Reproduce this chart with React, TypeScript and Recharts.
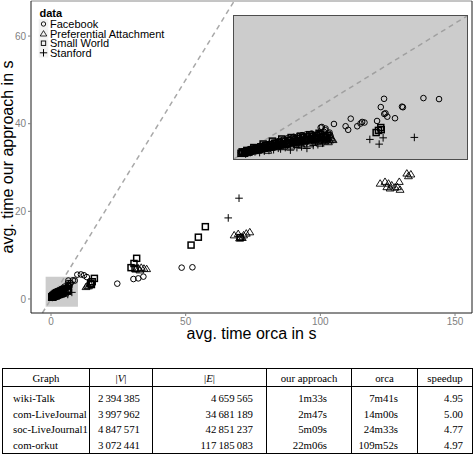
import React from 'react';
import { ScatterChart, Scatter, XAxis, YAxis, ReferenceLine, ReferenceArea, Legend } from 'recharts';

type P = [number, number];

// ---- small-value cluster (shown in main plot and in the zoomed inset) ----
const facebookSmall: P[] = [
  [0.3, 0.45], [0.5, 0.55], [0.7, 0.7], [0.9, 0.75], [1.1, 0.9], [1.3, 1.0], [1.5, 1.05], [1.7, 1.15],
  [1.9, 1.25], [2.1, 1.35], [2.3, 1.45], [2.56, 1.55], [2.75, 1.6], [2.92, 1.67], [3.1, 1.72], [3.33, 1.78],
  [3.55, 1.55], [3.72, 2.2], [3.77, 2.24], [3.85, 1.44], [3.86, 1.9], [3.92, 2.01], [3.93, 2.13], [4.06, 1.78],
  [4.1, 1.85], [4.13, 1.67], [4.29, 2.45], [4.79, 2.29], [4.9, 2.04], [5.01, 2.82], [5.29, 2.29], [5.43, 2.48],
  [5.5, 2.59], [5.6, 2.55], [6.14, 2.66], [6.3, 3.63], [6.44, 4.21], [6.45, 3.15], [6.5, 3.2], [6.58, 2.96],
  [6.91, 2.85], [7.21, 3.66], [7.25, 3.62], [8.13, 4.26], [8.8, 4.19],
  [0.4, 0.55], [0.6, 0.65], [0.8, 0.75], [1.0, 0.8], [1.2, 0.9], [1.4, 1.0], [1.6, 1.05], [1.8, 1.15],
  [2.0, 1.2], [2.2, 1.3], [2.4, 1.35], [2.6, 1.4], [2.8, 1.45], [3.0, 1.55], [3.2, 1.6], [3.4, 1.65], [3.6, 1.7],
  [0.35, 0.5], [0.55, 0.5], [0.75, 0.6], [0.95, 0.7], [1.15, 0.75], [1.35, 0.85], [1.55, 0.9], [1.75, 1.0],
  [1.95, 1.05], [2.15, 1.1], [2.35, 1.15], [2.55, 1.25], [2.75, 1.3], [2.95, 1.35], [3.15, 1.4], [3.35, 1.45],
  [3.55, 1.5], [3.75, 1.6], [3.95, 1.65], [4.15, 1.55],
];
const prefAttachSmall: P[] = [
  [0.4, 0.4], [0.6, 0.45], [0.8, 0.55], [1.0, 0.6], [1.2, 0.7], [1.4, 0.75], [1.5, 0.95], [1.6, 0.8],
  [1.8, 0.85], [2.0, 0.95], [2.2, 1.0], [2.4, 1.05], [2.5, 1.3], [2.6, 1.1], [2.8, 1.15], [3.0, 1.2],
  [3.2, 1.25], [3.3, 1.45], [3.4, 1.3], [3.6, 1.3], [3.8, 1.35], [3.9, 1.25], [4.0, 1.45], [4.1, 1.32],
  [4.2, 1.4], [4.25, 1.35],
  [0.5, 0.5], [0.7, 0.6], [0.9, 0.65], [1.1, 0.8], [1.3, 0.85], [1.45, 0.6], [1.7, 1.0], [1.9, 1.1],
  [2.1, 0.85], [2.3, 1.2], [2.45, 0.9], [2.7, 1.35], [2.9, 0.95], [3.1, 1.4], [3.25, 1.05], [3.5, 1.5],
  [3.65, 1.6], [3.7, 1.1], [3.9, 1.55], [4.05, 1.2],
  [0.45, 0.45], [0.65, 0.55], [0.85, 0.6], [1.05, 0.7], [1.25, 0.75], [1.45, 0.85], [1.65, 0.9], [1.85, 0.95],
  [2.05, 1.05], [2.25, 1.1], [2.45, 1.15], [2.65, 1.2], [2.85, 1.25], [3.05, 1.3], [3.25, 1.35], [3.45, 1.4],
  [3.65, 1.45], [3.85, 1.45], [4.15, 1.5],
];
const smallWorldSmall: P[] = [
  [0.35, 0.5], [0.55, 0.6], [0.75, 0.65], [0.95, 0.75], [1.15, 0.85], [1.35, 0.95], [1.55, 1.0], [1.75, 1.1],
  [1.95, 1.15], [2.15, 1.25], [2.35, 1.3], [2.55, 1.4], [2.75, 1.45], [2.95, 1.5], [3.15, 1.55], [3.35, 1.6],
  [3.55, 1.65], [3.7, 1.7], [6.1, 1.85], [6.2, 2.0], [6.3, 2.2], [6.32, 2.05],
  [0.45, 0.4], [0.65, 0.5], [0.85, 0.8], [1.05, 0.65], [1.25, 1.05], [1.45, 0.8], [1.65, 1.25], [1.85, 0.95],
  [2.05, 1.4], [2.25, 1.05], [2.45, 1.5], [2.65, 1.2], [2.85, 1.6], [3.05, 1.3], [3.25, 1.7], [3.45, 1.4],
  [3.65, 1.8], [3.85, 1.55], [4.0, 1.65],
  [0.3, 0.4], [0.5, 0.45], [0.7, 0.55], [0.9, 0.6], [1.1, 0.7], [1.3, 0.75], [1.5, 0.85], [1.7, 0.9],
  [1.9, 1.0], [2.1, 1.05], [2.3, 1.1], [2.5, 1.15], [2.7, 1.25], [2.9, 1.3], [3.1, 1.35], [3.3, 1.4],
  [3.5, 1.45], [3.75, 1.5], [3.95, 1.4],
];
const stanfordSmall: P[] = [
  [0.5, 0.35], [0.7, 0.45], [0.9, 0.5], [1.1, 0.45], [1.2, 0.65], [1.3, 0.55], [1.5, 0.6], [1.6, 0.8],
  [1.7, 0.65], [1.9, 0.75], [2.0, 0.7], [2.1, 0.95], [2.2, 0.8], [2.42, 0.62], [2.6, 1.05], [2.7, 0.8],
  [2.9, 0.85], [3.0, 1.1], [3.13, 0.74], [3.4, 0.95], [3.5, 1.2], [3.6, 1.0], [3.8, 1.1], [4.0, 1.3],
  [5.83, 1.37], [6.23, 1.04], [6.4, 1.48], [7.74, 1.51],
];

// ---- larger values (main plot only) ----
const facebookLarge: P[] = [
  [9.77, 5.55], [11.1, 5.6], [12.25, 5.4], [13.3, 5.0], [24.6, 3.5], [30.6, 4.55], [32.4, 4.7], [34.3, 5.1],
  [48.5, 7.15], [52.5, 7.23],
];
const prefAttachLarge: P[] = [
  [13.0, 2.8], [13.5, 3.1], [13.9, 2.97], [14.5, 3.4], [31.5, 6.8], [32.5, 7.0], [33.0, 6.6], [33.5, 7.2],
  [34.5, 7.0], [35.5, 6.9], [68.0, 14.6], [69.5, 14.9], [70.0, 13.9], [70.5, 14.2], [71.0, 14.0], [71.5, 14.6],
  [72.5, 15.0], [73.8, 15.3], [122.2, 26.4], [124.0, 26.8], [124.7, 25.6], [125.3, 26.4], [125.9, 25.3],
  [126.5, 26.0], [127.7, 25.5], [128.6, 25.6], [129.3, 26.8], [129.6, 25.0], [132.1, 28.7], [132.7, 28.1],
  [133.6, 28.5],
];
const smallWorldLarge: P[] = [
  [14.7, 3.6], [15.0, 3.3], [15.3, 3.95], [16.1, 4.7], [29.7, 7.15], [30.8, 8.1], [31.2, 7.0], [31.8, 9.28],
  [52.0, 12.3], [54.7, 14.1], [57.3, 16.5], [70.2, 14.0],
];
const stanfordLarge: P[] = [[65.8, 18.5], [69.8, 23.0]];

const seriesNames = ['Facebook', 'Preferential Attachment', 'Small World', 'Stanford'];
const xTicks = [0, 50, 100, 150];
const yTicks = [0, 20, 40, 60];
const xDomain: [number, number] = [-7.43, 156.3];
const yDomain: [number, number] = [-3.2, 68.0];
const zoomBox = { x1: -2, x2: 10, y1: -1.8, y2: 5.1 };
const insetDomain: [number, number] = [0, 10];

// ---- table ----
const graphs = ['wiki-Talk', 'com-LiveJournal', 'soc-LiveJournal1', 'com-orkut'];
const vertices = ['2\u2009394\u2009385', '3\u2009997\u2009962', '4\u2009847\u2009571', '3\u2009072\u2009441'];
const edges = ['4\u2009659\u2009565', '34\u2009681\u2009189', '42\u2009851\u2009237', '117\u2009185\u2009083'];
const ourTimes = ['1m33s', '2m47s', '5m09s', '22m06s'];
const orcaTimes = ['7m41s', '14m00s', '24m33s', '109m52s'];
const speedups = ['4.95', '5.00', '4.77', '4.97'];

const toPts = (a: P[]) => a.map(([x, y]) => ({ x, y }));

const SANS = '"Liberation Sans", Arial, Helvetica, sans-serif';
const SERIF = '"Liberation Serif", "Times New Roman", serif';

const CircleShape = (p: any) => (
  <circle cx={p.cx} cy={p.cy} r={2.8} fill="none" stroke="#000" strokeWidth={1} />
);
const TriShape = (p: any) => {
  const { cx, cy } = p;
  const s = 3.6;
  return (
    <polygon
      points={`${cx},${cy - s} ${cx - s * 1.1},${cy + s * 0.8} ${cx + s * 1.1},${cy + s * 0.8}`}
      fill="none" stroke="#000" strokeWidth={0.9}
    />
  );
};
const SquareShape = (p: any) => (
  <rect x={p.cx - 3} y={p.cy - 3} width={6} height={6} fill="none" stroke="#000" strokeWidth={1.5} />
);
const PlusShape = (p: any) => (
  <path d={`M${p.cx - 3.8},${p.cy}H${p.cx + 3.8}M${p.cx},${p.cy - 3.8}V${p.cy + 3.8}`} stroke="#000" strokeWidth={1} fill="none" />
);

const LegendContent = () => {
  const rowY = [24, 33.6, 43.2, 52.8];
  const icons = [
    <circle cx={43.5} cy={rowY[0]} r={2.2} fill="none" stroke="#000" strokeWidth={0.9} />,
    <polygon points={`43.5,${rowY[1] - 3} 40.2,${rowY[1] + 2.4} 46.8,${rowY[1] + 2.4}`} fill="none" stroke="#000" strokeWidth={0.8} />,
    <rect x={41.3} y={rowY[2] - 2.2} width={4.4} height={4.4} fill="none" stroke="#000" strokeWidth={0.9} />,
    <path d={`M39.8,${rowY[3]}H47.2M43.5,${rowY[3] - 3.7}V${rowY[3] + 3.7}`} stroke="#000" strokeWidth={1} />,
  ];
  return (
    <svg width={190} height={62} style={{ display: 'block' }}>
      <text x={39.5} y={17.3} fontFamily={SANS} fontSize={11} fontWeight="bold" fill="#000">data</text>
      {seriesNames.map((n, i) => (
        <g key={n}>
          <rect x={38.7} y={rowY[i] - 4.8} width={9.6} height={9.6} fill="#f2f2f2" />
          {icons[i]}
          <text x={50} y={rowY[i] + 4} fontFamily={SANS} fontSize={11} fill="#000">{n}</text>
        </g>
      ))}
    </svg>
  );
};

const tickStyle = { fill: '#7f7f7f', fontSize: 10, fontFamily: SANS };

const cellBase: React.CSSProperties = {
  borderLeft: '1px solid #000',
  borderRight: '1px solid #000',
  padding: 0,
  whiteSpace: 'nowrap',
  overflow: 'visible',
};

export default function App() {
  const colW = [87, 63, 114, 85, 66, 55];
  const bodyAlign: React.CSSProperties[] = [
    { textAlign: 'left', paddingLeft: 10 },
    { textAlign: 'right', paddingRight: 12 },
    { textAlign: 'right', paddingRight: 13 },
    { textAlign: 'right', paddingRight: 24 },
    { textAlign: 'right', paddingRight: 19 },
    { textAlign: 'right', paddingRight: 9 },
  ];
  const headers = [
    <>Graph</>,
    <>|<i>V</i>|</>,
    <>|<i>E</i>|</>,
    <>our approach</>,
    <>orca</>,
    <>speedup</>,
  ];
  const rows = graphs.map((g, i) => [g, vertices[i], edges[i], ourTimes[i], orcaTimes[i], speedups[i]]);

  return (
    <div style={{ position: 'absolute', left: 0, top: 0, width: 473, height: 462, background: '#fff', overflow: 'hidden' }}>
      <ScatterChart width={473} height={352} margin={{ top: 1, right: 1, bottom: 0, left: 0 }}>
        <XAxis
          type="number" dataKey="x" domain={xDomain} ticks={xTicks} allowDataOverflow height={39}
          tickSize={3} tickMargin={2} tick={tickStyle} tickLine={{ stroke: '#7f7f7f' }}
          axisLine={{ stroke: '#1a1a1a' }}
          label={{ value: 'avg. time orca in s', position: 'insideBottom', offset: 13, style: { fontSize: 16, fill: '#000', fontFamily: SANS } }}
        />
        <YAxis
          type="number" dataKey="y" domain={yDomain} ticks={yTicks} allowDataOverflow width={31}
          tickSize={3} tickMargin={2} tick={tickStyle} tickLine={{ stroke: '#7f7f7f' }}
          axisLine={{ stroke: '#1a1a1a' }}
          label={{ value: 'avg. time our approach in s', angle: -90, position: 'insideLeft', offset: 7, style: { fontSize: 16, fill: '#000', fontFamily: SANS, textAnchor: 'middle' } }}
        />
        <ReferenceArea x1={zoomBox.x1} x2={zoomBox.x2} y1={zoomBox.y1} y2={zoomBox.y2} fill="#cccccc" fillOpacity={1} stroke="none" />
        <ReferenceLine segment={[{ x: yDomain[0], y: yDomain[0] }, { x: yDomain[1], y: yDomain[1] }]} stroke="#a8a8a8" strokeWidth={1.5} strokeDasharray="5 4" ifOverflow="visible" />
        <ReferenceLine y={yDomain[1]} stroke="#8a8a8a" strokeWidth={1} />
        <ReferenceLine x={xDomain[1]} stroke="#1a1a1a" strokeWidth={1} />
        <Scatter name={seriesNames[0]} data={toPts([...facebookSmall, ...facebookLarge])} shape={CircleShape} isAnimationActive={false} />
        <Scatter name={seriesNames[1]} data={toPts([...prefAttachSmall, ...prefAttachLarge])} shape={TriShape} isAnimationActive={false} />
        <Scatter name={seriesNames[2]} data={toPts([...smallWorldSmall, ...smallWorldLarge])} shape={SquareShape} isAnimationActive={false} />
        <Scatter name={seriesNames[3]} data={toPts([...stanfordSmall, ...stanfordLarge])} shape={PlusShape} isAnimationActive={false} />
        <Legend layout="vertical" align="center" verticalAlign="middle" content={LegendContent} wrapperStyle={{ top: 0, left: 0, width: 190, height: 62 }} />
      </ScatterChart>

      {/* zoomed inset */}
      <div style={{ position: 'absolute', left: 233, top: 15, width: 235, height: 145, boxSizing: 'border-box', border: '1px solid #4d4d4d', background: '#cccccc' }}>
        <ScatterChart width={233} height={143} margin={{ top: 0, right: 0, bottom: 0, left: 0 }}>
          <XAxis type="number" dataKey="x" domain={insetDomain} hide allowDataOverflow />
          <YAxis type="number" dataKey="y" domain={insetDomain} hide allowDataOverflow />
          <ReferenceLine segment={[{ x: insetDomain[0], y: insetDomain[0] }, { x: insetDomain[1], y: insetDomain[1] }]} stroke="#a0a0a0" strokeWidth={1.5} strokeDasharray="5 4" />
          <Scatter data={toPts(facebookSmall)} shape={CircleShape} isAnimationActive={false} />
          <Scatter data={toPts(prefAttachSmall)} shape={TriShape} isAnimationActive={false} />
          <Scatter data={toPts(smallWorldSmall)} shape={SquareShape} isAnimationActive={false} />
          <Scatter data={toPts(stanfordSmall)} shape={PlusShape} isAnimationActive={false} />
        </ScatterChart>
      </div>

      {/* results table */}
      <table style={{ position: 'absolute', left: 2, top: 368, borderCollapse: 'collapse', tableLayout: 'fixed', width: 471, fontFamily: SERIF, fontSize: 10.8, color: '#000', border: '1px solid #000' }}>
        <colgroup>
          {colW.map((w, i) => <col key={i} style={{ width: w }} />)}
        </colgroup>
        <thead>
          <tr style={{ height: 18 }}>
            {headers.map((h, i) => (
              <th key={i} style={{ ...cellBase, textAlign: 'center', fontWeight: 'normal', borderBottom: '1px solid #000' }}>{h}</th>
            ))}
          </tr>
        </thead>
        <tbody>
          {rows.map((r, ri) => (
            <tr key={ri} style={{ height: ri === 0 ? 19.5 : 15.5 }}>
              {r.map((c, ci) => (
                <td key={ci} style={{ ...cellBase, ...bodyAlign[ci], paddingTop: ri === 0 ? 4 : 0, lineHeight: '15.5px', verticalAlign: 'bottom' }}>{c}</td>
              ))}
            </tr>
          ))}
        </tbody>
      </table>
    </div>
  );
}
